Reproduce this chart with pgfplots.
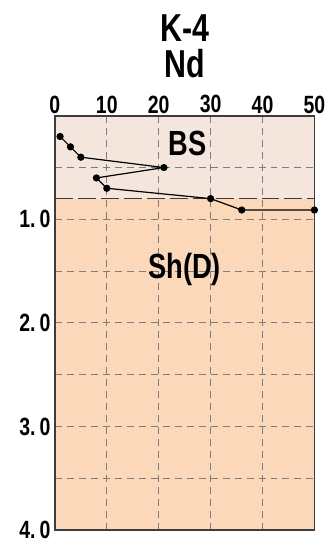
\documentclass[border=0pt]{standalone}
\usepackage{pgfplots}
\pgfplotsset{compat=1.18}
\usepackage{fontspec}
\setmainfont{Liberation Sans}[FakeStretch=0.78]
\definecolor{topfill}{RGB}{245,230,221}
\definecolor{botfill}{RGB}{251,216,186}
\definecolor{gridc}{RGB}{125,125,125}
\definecolor{framec}{RGB}{60,60,60}
\begin{document}
\begin{tikzpicture}[x=1pt,y=1pt]
\begin{axis}[
  name=ax,
  set layers,
  scale only axis,
  width=260pt, height=415pt,
  xmin=0, xmax=50, ymin=0, ymax=4,
  y dir=reverse,
  xtick={0,10,20,30,40,50},
  xticklabel pos=top,
  ytick={0,0.5,1,1.5,2,2.5,3,3.5,4},
  yticklabels={,,1.\hspace{4pt}0,,2.\hspace{4pt}0,,3.\hspace{4pt}0,,4.\hspace{4pt}0},
  major tick length=0pt,
  tick label style={font=\bfseries\fontsize{25}{25}\selectfont},
  /pgf/number format/assume math mode=true,
  xticklabel style={yshift=-1pt},
  yticklabel style={xshift=-1pt},
  grid=major,
  major grid style={gridc, line width=1pt, dash pattern=on 7pt off 5pt},
  axis line style={framec, line width=1.5pt},
  clip=false,
]
\addplot[on layer=axis background, draw=none, fill=topfill] coordinates {(0,0) (50,0) (50,0.8) (0,0.8)} -- cycle;
\addplot[on layer=axis background, draw=none, fill=botfill] coordinates {(0,0.8) (50,0.8) (50,4) (0,4)} -- cycle;
\addplot[framec, line width=1.6pt, dash pattern=on 18pt off 5pt] coordinates {(0,0.8) (50,0.8)};
\addplot[black, line width=1.2pt, mark=*, mark size=3pt] coordinates {
(1,0.2) (3,0.3) (5,0.4) (21,0.5) (8,0.6) (10,0.7) (30,0.8) (36,0.91) (50,0.91)};
\node[font=\bfseries\fontsize{35}{35}\selectfont] at (axis cs:25.5,0.27) {BS};
\node[font=\bfseries\fontsize{35}{35}\selectfont] at (axis cs:25,1.48) {Sh(D)};
\end{axis}
\node[anchor=base, font=\bfseries\fontsize{39}{39}\selectfont] at ([yshift=74pt]ax.north) {K-4};
\node[anchor=base, font=\bfseries\fontsize{39}{39}\selectfont] at ([yshift=38pt]ax.north) {Nd};
\path[use as bounding box] ([xshift=-55pt,yshift=-13pt]ax.south west) rectangle ([xshift=16pt,yshift=116pt]ax.north east);
\end{tikzpicture}
\end{document}
